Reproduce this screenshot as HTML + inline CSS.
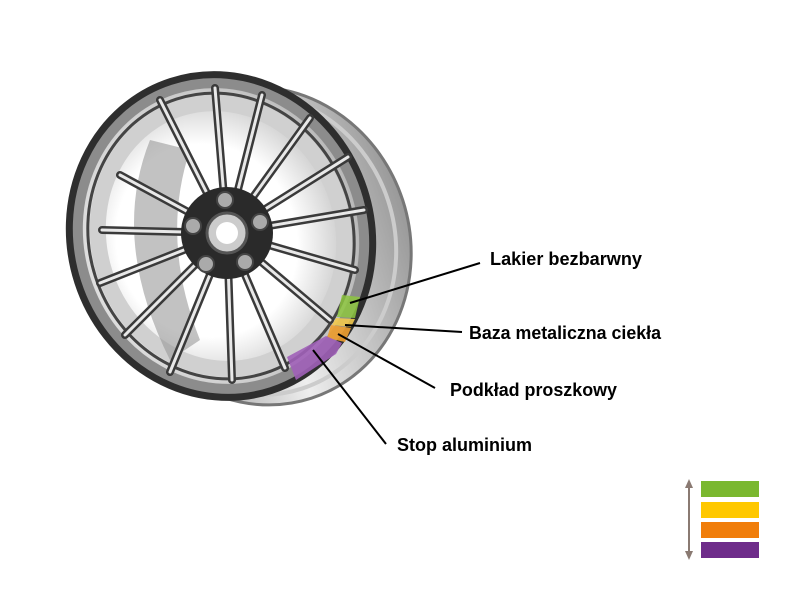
<!DOCTYPE html>
<html><head><meta charset="utf-8"><style>html,body{margin:0;padding:0;background:#fff}svg{display:block}</style></head>
<body>
<svg width="800" height="600" viewBox="0 0 800 600" xmlns="http://www.w3.org/2000/svg">
<defs>
<linearGradient id="bar" x1="0" y1="0" x2="1" y2="0">
<stop offset="0" stop-color="#888"/><stop offset="0.5" stop-color="#eee"/><stop offset="1" stop-color="#999"/>
</linearGradient>
<radialGradient id="inner" cx="0.45" cy="0.5" r="0.6">
<stop offset="0.5" stop-color="#fff"/><stop offset="0.8" stop-color="#c4c4c4"/><stop offset="1" stop-color="#8a8a8a"/>
</radialGradient>
</defs>
<ellipse cx="262" cy="246" rx="148" ry="160" transform="rotate(-18 262 246)" fill="url(#bar)" stroke="#777" stroke-width="3"/>
<ellipse cx="255" cy="244" rx="140" ry="152" transform="rotate(-18 255 244)" fill="none" stroke="#ccc" stroke-width="4"/>
<ellipse cx="221" cy="236" rx="150" ry="162" transform="rotate(-18 221 236)" fill="url(#inner)" stroke="#2e2e2e" stroke-width="8"/>
<ellipse cx="221" cy="236" rx="142" ry="154" transform="rotate(-18 221 236)" fill="none" stroke="#8c8c8c" stroke-width="10"/>
<ellipse cx="221" cy="236" rx="132" ry="144" transform="rotate(-18 221 236)" fill="none" stroke="#444" stroke-width="3"/>
<ellipse cx="221" cy="236" rx="122" ry="134" transform="rotate(-18 221 236)" fill="none" stroke="#d0d0d0" stroke-width="16"/>
<path d="M150 140 Q110 240 170 360 L200 340 Q160 240 190 150 Z" fill="#9a9a9a" opacity="0.6"/>
<g stroke-linecap="round">
<g stroke="#3a3a3a" stroke-width="8">
<line x1="227" y1="233" x2="160" y2="100"/><line x1="227" y1="233" x2="215" y2="88"/><line x1="227" y1="233" x2="262" y2="95"/>
<line x1="227" y1="233" x2="310" y2="118"/><line x1="227" y1="233" x2="348" y2="157"/><line x1="227" y1="233" x2="364" y2="210"/>
<line x1="227" y1="233" x2="355" y2="270"/><line x1="227" y1="233" x2="330" y2="320"/><line x1="227" y1="233" x2="285" y2="368"/>
<line x1="227" y1="233" x2="232" y2="380"/><line x1="227" y1="233" x2="170" y2="372"/><line x1="227" y1="233" x2="125" y2="335"/>
<line x1="227" y1="233" x2="100" y2="283"/><line x1="227" y1="233" x2="102" y2="230"/><line x1="227" y1="233" x2="120" y2="175"/>
</g>
<g stroke="#e8e8e8" stroke-width="3">
<line x1="227" y1="233" x2="160" y2="100"/><line x1="227" y1="233" x2="215" y2="88"/><line x1="227" y1="233" x2="262" y2="95"/>
<line x1="227" y1="233" x2="310" y2="118"/><line x1="227" y1="233" x2="348" y2="157"/><line x1="227" y1="233" x2="364" y2="210"/>
<line x1="227" y1="233" x2="355" y2="270"/><line x1="227" y1="233" x2="330" y2="320"/><line x1="227" y1="233" x2="285" y2="368"/>
<line x1="227" y1="233" x2="232" y2="380"/><line x1="227" y1="233" x2="170" y2="372"/><line x1="227" y1="233" x2="125" y2="335"/>
<line x1="227" y1="233" x2="100" y2="283"/><line x1="227" y1="233" x2="102" y2="230"/><line x1="227" y1="233" x2="120" y2="175"/>
</g>
</g>
<circle cx="227" cy="233" r="46" fill="#2a2a2a"/>
<circle cx="227" cy="233" r="20" fill="#ccc" stroke="#555" stroke-width="3"/>
<circle cx="227" cy="233" r="11" fill="#fff"/>
<g fill="#aaa" stroke="#444" stroke-width="2">
<circle cx="225" cy="200" r="8"/><circle cx="260" cy="222" r="8"/><circle cx="245" cy="262" r="8"/>
<circle cx="206" cy="264" r="8"/><circle cx="193" cy="226" r="8"/>
</g>
<polygon points="342,295 360,297 355,318 337,317" fill="#8dc63f" opacity="0.85"/>
<polygon points="336,318 355,319 351,327 332,325" fill="#f2c94c" opacity="0.9"/>
<polygon points="331,325 351,328 345,342 327,338" fill="#f0a030" opacity="0.9"/>
<polygon points="287,357 326,336 342,343 336,354 296,380" fill="#a060b8" opacity="0.9"/>
<g stroke="#000" stroke-width="2">
<line x1="350" y1="303" x2="480" y2="263"/>
<line x1="345" y1="325" x2="462" y2="332"/>
<line x1="338" y1="334" x2="435" y2="388"/>
<line x1="313" y1="350" x2="386" y2="444"/>
</g>
<g font-family="Liberation Sans, sans-serif" font-weight="bold" font-size="18" fill="#000">
<text x="490" y="265" textLength="152" lengthAdjust="spacingAndGlyphs">Lakier bezbarwny</text>
<text x="469" y="339" textLength="192" lengthAdjust="spacingAndGlyphs">Baza metaliczna ciekła</text>
<text x="450" y="396" textLength="167" lengthAdjust="spacingAndGlyphs">Podkład proszkowy</text>
<text x="397" y="451" textLength="135" lengthAdjust="spacingAndGlyphs">Stop aluminium</text>
</g>
<rect x="701" y="481" width="58" height="16" fill="#7ab82f"/>
<rect x="701" y="502" width="58" height="16" fill="#ffc800"/>
<rect x="701" y="522" width="58" height="16" fill="#f07d0a"/>
<rect x="701" y="542" width="58" height="16" fill="#6e2c8a"/>
<line x1="689" y1="483" x2="689" y2="556" stroke="#8a7a72" stroke-width="2"/>
<polygon points="689,479 685,488 693,488" fill="#8a7a72"/>
<polygon points="689,560 685,551 693,551" fill="#8a7a72"/>
</svg>
</body></html>
